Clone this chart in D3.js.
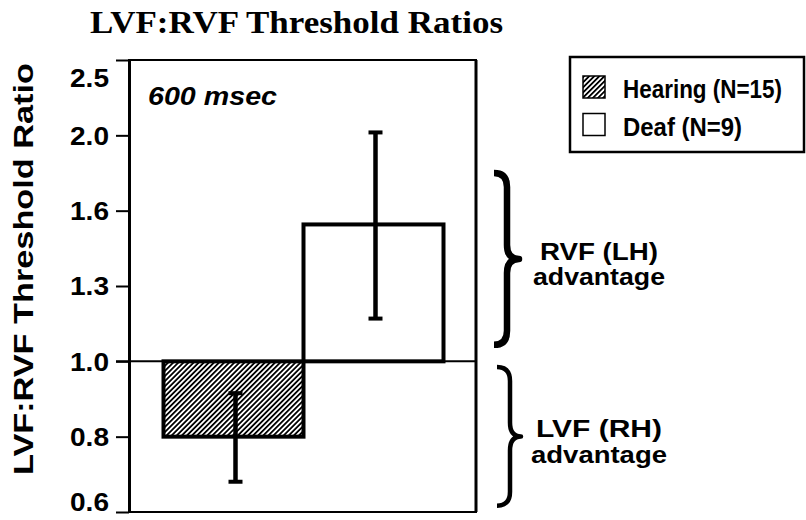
<!DOCTYPE html>
<html>
<head>
<meta charset="utf-8">
<script src="https://cdn.jsdelivr.net/npm/d3@7"></script>
<style>
  body { margin: 0; background: #fff; }
  text { font-family: "Liberation Sans", Arial, sans-serif; font-weight: bold; fill: #000; }
</style>
</head>
<body>
<svg id="chart" width="806" height="520"></svg>
<script>
// data
const categories = ["Hearing", "Deaf"];
const legendLabels = ["Hearing (N=15)", "Deaf (N=9)"];
const means = [0.80, 1.50];
const errLow = [0.70, 1.135];
const errHigh = [0.91, 1.97];
const baseline = 1.0;

// log axis, ticks at powers of 1.25
const tickValues = [0.64, 0.8, 1, 1.25, 1.5625, 1.953125, 2.44140625];
const tickLabels = ["0.6", "0.8", "1.0", "1.3", "1.6", "2.0", "2.5"];

// bracket annotations (value ranges on the y axis)
const braceRanges = [[1.747, 1.05], [0.983, 0.652]];
const braceLabels = [["RVF (LH)", "advantage"], ["LVF (RH)", "advantage"]];

const svg = d3.select("#chart");

const plotLeft = 129, plotRight = 476, plotTop = 60, plotBottom = 512;

const y = d3.scaleLog()
  .domain([tickValues[0], tickValues[tickValues.length - 1]])
  .range([plotBottom, plotTop]);

const x = d3.scaleBand()
  .domain(categories)
  .range([163.5, 443.5])
  .padding(0);

// hatch pattern
const defs = svg.append("defs");
defs.append("pattern")
  .attr("id", "hatch")
  .attr("patternUnits", "userSpaceOnUse")
  .attr("width", 3.6)
  .attr("height", 3.6)
  .attr("patternTransform", "rotate(45)")
  .call(p => {
    p.append("rect").attr("width", 3.6).attr("height", 3.6).attr("fill", "#fff");
    p.append("rect").attr("width", 1.8).attr("height", 3.6).attr("fill", "#000");
  });

const fills = ["url(#hatch)", "#fff"];

// title
svg.append("text")
  .attr("x", 90)
  .attr("y", 33)
  .attr("textLength", 413)
  .attr("lengthAdjust", "spacingAndGlyphs")
  .style("font-family", "'Liberation Serif', 'Times New Roman', serif")
  .style("font-size", "31px")
  .text("LVF:RVF Threshold Ratios");

// frame
svg.append("rect")
  .attr("x", plotLeft)
  .attr("y", plotTop)
  .attr("width", plotRight - plotLeft)
  .attr("height", plotBottom - plotTop)
  .attr("fill", "none")
  .attr("stroke", "#000")
  .attr("stroke-width", 2);

svg.append("line")
  .attr("x1", plotRight).attr("x2", plotRight)
  .attr("y1", plotTop).attr("y2", plotBottom)
  .attr("stroke", "#000")
  .attr("stroke-width", 3);

// y axis
const yAxis = svg.append("g")
  .attr("transform", `translate(${plotLeft},0)`)
  .call(d3.axisLeft(y)
    .tickValues(tickValues)
    .tickFormat((d, i) => tickLabels[i])
    .tickSize(13)
    .tickSizeOuter(0)
    .tickPadding(7));

yAxis.select(".domain").attr("stroke-width", 3);
yAxis.selectAll(".tick line").attr("stroke-width", 2);
yAxis.selectAll(".tick text")
  .style("font-size", "26px")
  .style("font-family", "'Liberation Sans', Arial, sans-serif")
  .style("font-weight", "bold")
  .attr("textLength", 39)
  .attr("lengthAdjust", "spacingAndGlyphs")
  .attr("dy", (d, i) => i === tickValues.length - 1 ? "1.0em" : (i === 0 ? "-0.04em" : "0.34em"));

// y axis title
svg.append("text")
  .attr("transform", "translate(33,269) rotate(-90)")
  .attr("text-anchor", "middle")
  .attr("textLength", 412)
  .attr("lengthAdjust", "spacingAndGlyphs")
  .style("font-size", "28px")
  .text("LVF:RVF Threshold Ratio");

// reference line at 1.0
svg.append("line")
  .attr("x1", plotLeft - 13)
  .attr("x2", plotRight)
  .attr("y1", y(baseline))
  .attr("y2", y(baseline))
  .attr("stroke", "#000")
  .attr("stroke-width", 2);

// bars
svg.selectAll(".bar")
  .data(categories)
  .enter()
  .append("rect")
  .attr("class", "bar")
  .attr("x", d => x(d))
  .attr("width", x.bandwidth())
  .attr("y", (d, i) => Math.min(y(means[i]), y(baseline)))
  .attr("height", (d, i) => Math.abs(y(means[i]) - y(baseline)))
  .attr("fill", (d, i) => fills[i])
  .attr("stroke", "#000")
  .attr("stroke-width", 4);

// error bars
const err = svg.selectAll(".err")
  .data(categories)
  .enter()
  .append("g")
  .attr("class", "err")
  .attr("transform", d => `translate(${x(d) + x.bandwidth() / 2 + 2},0)`);

err.append("line")
  .attr("y1", (d, i) => y(errLow[i]))
  .attr("y2", (d, i) => y(errHigh[i]))
  .attr("stroke", "#000")
  .attr("stroke-width", 4.5);

err.selectAll(".cap")
  .data((d, i) => [errLow[i], errHigh[i]])
  .enter()
  .append("line")
  .attr("x1", -7)
  .attr("x2", 7)
  .attr("y1", v => y(v))
  .attr("y2", v => y(v))
  .attr("stroke", "#000")
  .attr("stroke-width", 4);

// panel label
svg.append("text")
  .attr("x", 148)
  .attr("y", 105)
  .attr("textLength", 129)
  .attr("lengthAdjust", "spacingAndGlyphs")
  .style("font-size", "26px")
  .style("font-style", "italic")
  .text("600 msec");

// legend
const legend = svg.append("g");
legend.append("rect")
  .attr("x", 570)
  .attr("y", 57)
  .attr("width", 234)
  .attr("height", 95)
  .attr("fill", "#fff")
  .attr("stroke", "#000")
  .attr("stroke-width", 2.5);

const legendWidths = [159, 119];
const items = legend.selectAll(".item")
  .data(legendLabels)
  .enter()
  .append("g")
  .attr("class", "item")
  .attr("transform", (d, i) => `translate(583,${76 + i * 37.5})`);

items.append("rect")
  .attr("width", 22)
  .attr("height", 22)
  .attr("fill", (d, i) => fills[i])
  .attr("stroke", "#000")
  .attr("stroke-width", 1.5);

items.append("text")
  .attr("x", 40)
  .attr("y", 22)
  .attr("textLength", (d, i) => legendWidths[i])
  .attr("lengthAdjust", "spacingAndGlyphs")
  .style("font-size", "26px")
  .text(d => d);

// curly brackets on the right
function bracePath(x0, x1, x2, y0, y1) {
  const ym = (y0 + y1) / 2;
  const r = 14;
  return `M${x0},${y0} Q${x1},${y0} ${x1},${y0 + r} L${x1},${ym - r} Q${x1},${ym} ${x2},${ym}` +
    ` Q${x1},${ym} ${x1},${ym + r} L${x1},${y1 - r} Q${x1},${y1} ${x0},${y1}`;
}

const braceX = [[494, 507, 519], [497, 510, 521]];
const braceW = [6.5, 4.5];
const labelWidths = [[118, 132], [126, 136]];

braceRanges.forEach((r, i) => {
  const y0 = y(r[0]), y1 = y(r[1]);
  svg.append("path")
    .attr("d", bracePath(braceX[i][0], braceX[i][1], braceX[i][2], y0, y1))
    .attr("fill", "none")
    .attr("stroke", "#000")
    .attr("stroke-width", braceW[i])
    .attr("stroke-linejoin", "round");

  const ym = (y0 + y1) / 2;
  braceLabels[i].forEach((t, j) => {
    svg.append("text")
      .attr("x", 599)
      .attr("y", ym + 1 + j * 25.5)
      .attr("text-anchor", "middle")
      .attr("textLength", labelWidths[i][j])
      .attr("lengthAdjust", "spacingAndGlyphs")
      .style("font-size", "24px")
      .text(t);
  });
});
</script>
</body>
</html>
